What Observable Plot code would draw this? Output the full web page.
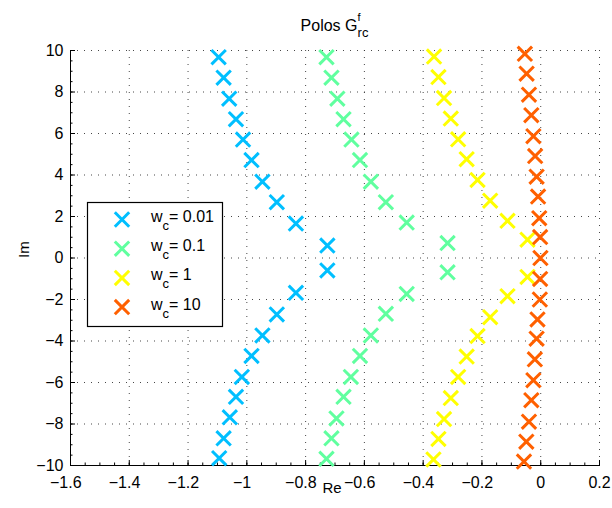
<!DOCTYPE html>
<html><head><meta charset="utf-8">
<script src="https://cdn.jsdelivr.net/npm/d3@7"></script>
<script src="https://cdn.jsdelivr.net/npm/@observablehq/plot@0.6"></script>
<style>body{margin:0;background:#fff;} #chart{width:612px;height:508px;}</style>
</head><body><div id="chart"></div>
<script>
// Series labels and colours
const seriesNames = ["0.01", "0.1", "1", "10"];
const seriesColors = ["#00BFFF", "#60FF9F", "#FFFF00", "#FF6000"];

// w_c = 0.01
const re001 = [-1.096,-1.079,-1.060,-1.037,-1.013,-0.984,-0.947,-0.898,-0.833,-0.726,
               -0.726,-0.833,-0.898,-0.947,-0.984,-1.017,-1.037,-1.058,-1.079,-1.094];
const im001 = [9.68,8.69,7.68,6.69,5.71,4.72,3.68,2.69,1.66,0.60,
               -0.60,-1.68,-2.72,-3.73,-4.72,-5.73,-6.69,-7.68,-8.69,-9.65];
// w_c = 0.1
const re01 = [-0.729,-0.712,-0.692,-0.671,-0.644,-0.615,-0.578,-0.527,-0.456,-0.317,
              -0.317,-0.456,-0.527,-0.578,-0.615,-0.646,-0.671,-0.695,-0.712,-0.729];
const im01 = [9.68,8.69,7.68,6.69,5.71,4.72,3.68,2.69,1.71,0.72,
              -0.69,-1.73,-2.69,-3.73,-4.72,-5.73,-6.69,-7.73,-8.69,-9.68];
// w_c = 1
const re1 = [-0.363,-0.348,-0.329,-0.306,-0.281,-0.252,-0.215,-0.172,-0.113,-0.045,
             -0.045,-0.113,-0.172,-0.215,-0.252,-0.281,-0.306,-0.329,-0.348,-0.365];
const im1 = [9.71,8.72,7.71,6.72,5.72,4.76,3.76,2.76,1.79,0.88,
             -0.91,-1.84,-2.85,-3.76,-4.75,-5.73,-6.75,-7.76,-8.72,-9.71];
// w_c = 10
const re10 = [-0.054,-0.048,-0.040,-0.032,-0.025,-0.019,-0.014,-0.009,-0.005,-0.002,-0.001,
              -0.002,-0.003,-0.011,-0.014,-0.020,-0.025,-0.032,-0.040,-0.049,-0.057];
const im10 = [9.84,8.88,7.87,6.88,5.87,4.91,3.92,2.96,1.92,1.01,0,
              -1.01,-2.00,-2.96,-3.89,-4.88,-5.89,-6.85,-7.89,-8.85,-9.81];

const xTickValues = [-1.6,-1.4,-1.2,-1,-0.8,-0.6,-0.4,-0.2,0,0.2];
const yTickValues = [-10,-8,-6,-4,-2,0,2,4,6,8,10];

const reList = [re001, re01, re1, re10];
const imList = [im001, im01, im1, im10];
const points = [];
seriesNames.forEach((s, k) => reList[k].forEach((r, i) => points.push({re: r, im: imList[k][i], series: s})));

const minorX = d3.range(0, 37).map(i => -1.6 + i * 0.05);
const minorY = d3.range(0, 41).map(i => -10 + i * 0.5);
const fmt = d3.format("");
const font = "'Liberation Sans', Arial, Helvetica, sans-serif";

const plot = Plot.plot({
  width: 612, height: 508,
  marginLeft: 70, marginRight: 13, marginTop: 50, marginBottom: 43,
  style: {fontFamily: font, fontSize: "16px", background: "#fff", color: "#000"},
  x: {domain: [-1.6, 0.2]},
  y: {domain: [-10, 10]},
  color: {domain: seriesNames, range: seriesColors},
  marks: [
    Plot.gridX(xTickValues, {stroke: "#333", strokeOpacity: 0.9, strokeDasharray: "1,6"}),
    Plot.gridY(yTickValues, {stroke: "#333", strokeOpacity: 0.9, strokeDasharray: "1,6"}),
    Plot.frame({anchor: "left", stroke: "#000"}),
    Plot.frame({anchor: "bottom", stroke: "#000"}),
    Plot.axisX(minorX, {tickSize: -2.5, tickFormat: () => "", label: null}),
    Plot.axisY(minorY, {tickSize: -2.5, tickFormat: () => "", label: null}),
    Plot.axisX(xTickValues, {tickSize: -5, tickFormat: () => "", label: null}),
    Plot.axisX(xTickValues.filter(d => d < 0), {tickSize: 0, tickPadding: 11, dx: -4.7, tickFormat: fmt, label: null, fontSize: 16}),
    Plot.axisX(xTickValues.filter(d => d >= 0), {tickSize: 0, tickPadding: 11, tickFormat: fmt, label: null, fontSize: 16}),
    Plot.axisY(yTickValues, {tickSize: -5, tickPadding: 12, tickFormat: fmt, label: null, fontSize: 16}),
    Plot.dot(points, {x: "re", y: "im", stroke: "series", symbol: "times", r: 6.6, strokeWidth: 3}),
    Plot.text(["Re"], {text: d => d, frameAnchor: "bottom", dx: -3, dy: 27, fontSize: 15}),
    Plot.text(["Im"], {text: d => d, frameAnchor: "left", dx: -46, rotate: -90, fontSize: 15})
  ]
});
document.getElementById("chart").appendChild(plot);

const svg = d3.select(plot);
// Title with superscript/subscript
const cx = (70 + 599) / 2;
const title = svg.append("text").attr("x", cx).attr("y", 31).attr("text-anchor", "middle")
  .style("font-family", font).style("font-size", "16px").attr("fill", "#000");
title.append("tspan").text("Polos G");
title.append("tspan").attr("dy", -10).style("font-size", "11px").text("f");
title.append("tspan").attr("dx", -3).attr("dy", 16).style("font-size", "13px").text("rc");

// Legend
const colorScale = plot.scale("color");
const lg = svg.append("g");
lg.append("rect").attr("x", 87.5).attr("y", 202.5).attr("width", 135).attr("height", 124)
  .attr("fill", "#fff").attr("stroke", "#000").attr("stroke-width", 1.2);
colorScale.domain.forEach((n, i) => {
  const y = 219.5 + i * 29.2;
  lg.append("path").attr("d", d3.symbol(d3.symbolTimes, 6.6 * 6.6 * Math.PI)())
    .attr("transform", `translate(122,${y})`).attr("stroke", colorScale.range[i])
    .attr("stroke-width", 3).attr("fill", "none");
  const t = lg.append("text").attr("x", 151).attr("y", y + 2.5).attr("text-anchor", "start")
    .style("font-family", font).style("font-size", "16px").attr("fill", "#000");
  t.append("tspan").text("w");
  t.append("tspan").attr("dy", 8).style("font-size", "13px").text("c");
  t.append("tspan").attr("dy", -8).text("= " + n);
});
</script></body></html>
